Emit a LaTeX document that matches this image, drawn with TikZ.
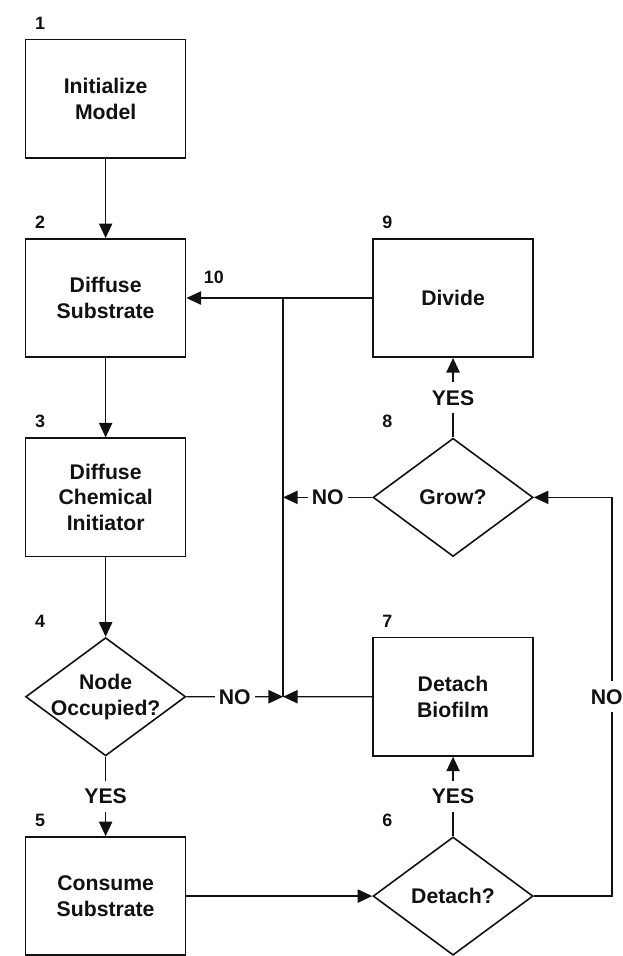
\documentclass[tikz,border=0pt]{standalone}
\usepackage{fontspec}
\setmainfont{Liberation Sans}
\usetikzlibrary{arrows.meta,positioning,shapes.geometric,calc}
\definecolor{ink}{HTML}{111111}
\tikzset{
  stepbox/.style={draw=ink, line width=1.2pt, fill=white, text=ink, align=center,
              minimum width=120.75pt, minimum height=89.25pt, inner sep=2pt,
              font=\fontsize{16}{19.5}\selectfont\bfseries},
  query/.style={diamond, draw=ink, line width=1.2pt, fill=white, text=ink, align=center,
              aspect=1.35, inner sep=-3pt, minimum width=120.75pt, minimum height=89.25pt,
              font=\fontsize{16}{19.5}\selectfont\bfseries},
  flow/.style={-{Triangle[length=11pt,width=10pt]}, line width=1.1pt, draw=ink},
  link/.style={line width=1.1pt, draw=ink},
  ans/.style={fill=white, text=ink, inner xsep=3pt, inner ysep=6pt,
              font=\fontsize{16}{18}\selectfont\bfseries},
  num/.style={text=ink, inner sep=0pt, anchor=south west,
              font=\fontsize{13.5}{16}\selectfont\bfseries}
}
\begin{document}
\begin{tikzpicture}[node distance=60pt]
  % left column
  \node[stepbox] (init) {Initialize\\Model};
  \node[stepbox, below=of init] (sub) {Diffuse\\Substrate};
  \node[stepbox, below=of sub] (chem) {Diffuse\\Chemical\\Initiator};
  \node[query, below=of chem] (occ) {Node\\Occupied?};
  \node[stepbox, below=of occ] (cons) {Consume\\Substrate};
  % right column
  \node[stepbox, right=140.25pt of sub] (div) {Divide};
  \node[query, below=of div] (grow) {Grow?};
  \node[stepbox, below=of grow] (detb) {Detach\\Biofilm};
  \node[query, below=of detb] (det) {Detach?};
  \useasboundingbox ($(init.north west)+(-18.75pt,29.25pt)$) rectangle ++(469.5pt,-717pt);

  % step numbers
  \node[num] (n1) at ($(init.north west)+(7.5pt,7pt)$) {1};
  \node[num] (n2) at ($(sub.north west)+(7.5pt,7pt)$) {2};
  \node[num] (n3) at ($(chem.north west)+(7.5pt,7pt)$) {3};
  \node[num] (n4) at ($(occ.west |- occ.north)+(7.5pt,7pt)$) {4};
  \node[num] (n5) at ($(cons.north west)+(7.5pt,7pt)$) {5};
  \node[num] (n6) at ($(det.west |- det.north)+(7.5pt,7pt)$) {6};
  \node[num] (n7) at ($(detb.north west)+(7.5pt,7pt)$) {7};
  \node[num] (n8) at ($(grow.west |- grow.north)+(7.5pt,7pt)$) {8};
  \node[num] (n9) at ($(div.north west)+(7.5pt,7pt)$) {9};
  \node[num] (n10) at ($(sub.east)+(13pt,10.7pt)$) {10};

  % main flow
  \draw[flow] (init) -- (sub);
  \draw[flow] (sub) -- (chem);
  \draw[flow] (chem) -- (occ);
  \draw[flow] (occ) -- node[ans] (yes4) {YES} (cons);
  \draw[flow] (cons) -- (det);
  \draw[flow] (det) -- node[ans] (yes6) {YES} (detb);
  \draw[flow] (grow) -- node[ans] (yes8) {YES} (div);

  % return paths
  \coordinate (merge) at ($(occ.east)!0.52!(detb.west)$);
  \coordinate (mtop) at (merge |- div.west);
  \coordinate (mgrow) at (merge |- grow.west);
  \coordinate (rt) at ($(det.east)+(59pt,0)$);
  \draw[flow] (div) -- (sub);
  \draw[link] (mtop) -- (merge);
  \draw[flow] (occ) -- node[ans] (no4) {NO} (merge);
  \draw[flow] (detb) -- (merge);
  \draw[flow] (grow) -- node[ans] (no8) {NO} (mgrow);
  \draw[flow] (det.east) -- (rt) |- node[ans, pos=0.25, xshift=-4pt, inner xsep=1pt] (no6) {NO} (grow.east);
\end{tikzpicture}
\end{document}
